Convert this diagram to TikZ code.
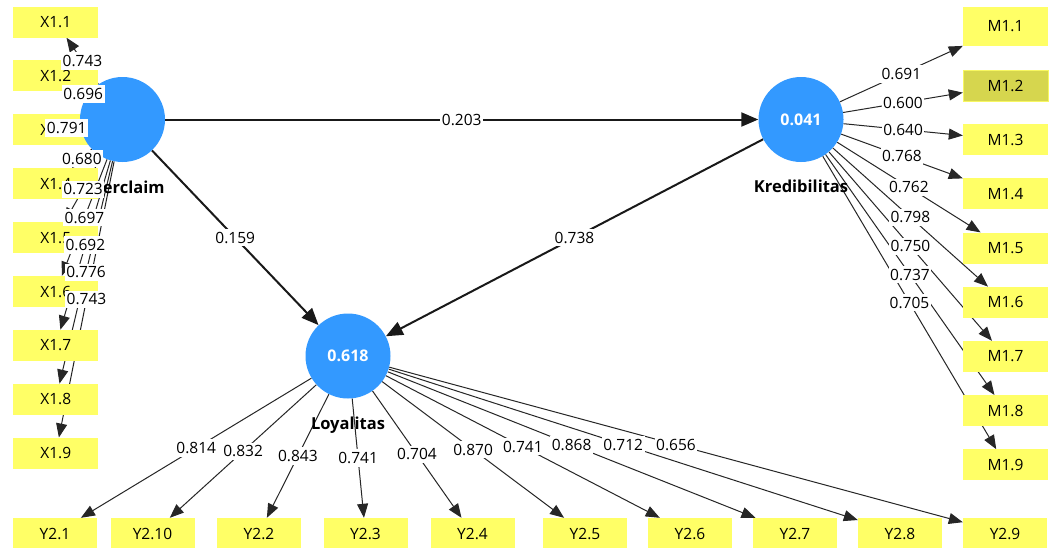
\documentclass[tikz,border=0pt]{standalone}
\usepackage{fontspec}
\setmainfont{Open Sans}
\usepackage{tikz}
\usetikzlibrary{positioning}
\usetikzlibrary{arrows.meta}

\definecolor{indyellow}{RGB}{255,255,102}
\definecolor{selyellow}{RGB}{214,214,78}
\definecolor{lvblue}{RGB}{51,153,255}

\pgfdeclarelayer{bg}
\pgfdeclarelayer{lines}
\pgfsetlayers{bg,lines,main}

\begin{document}
\begin{tikzpicture}[x=1pt,y=-1pt,
  ind/.style={fill=indyellow,minimum width=85pt,minimum height=31pt,inner sep=0pt,font=\fontsize{15.5}{18}\selectfont},
  lv/.style={circle,fill=lvblue,minimum size=85pt,inner sep=0pt,text=white,font=\fontsize{16}{18}\selectfont\bfseries},
  lvname/.style={inner sep=0pt,font=\fontsize{16.5}{18}\selectfont\bfseries},
  loading/.style={draw=black!85,line width=1pt,-{Triangle[length=14pt,width=11pt]}},
  struct/.style={draw=black!90,line width=2pt,-{Triangle[length=17pt,width=14pt]}},
  val/.style={fill=white,inner xsep=1.5pt,inner ysep=3pt,font=\fontsize{15.5}{18}\selectfont}]
\useasboundingbox (0,0) rectangle (1059,547);
\begin{pgfonlayer}{bg}
\fill[white] (0,0) rectangle (1059,547);
\end{pgfonlayer}

\foreach \i in {1,...,9}
  \node[ind] (x\i) at (55.75,{22+53.9*(\i-1)}) {X1.\i};
\node[ind,minimum height=39pt] (m1) at (1005.5,26.5) {M1.1};
\node[ind,fill=selyellow,draw=indyellow!80!selyellow] (m2) at (1005.5,85.5) {M1.2};
\foreach \i in {3,...,9}
  \node[ind] (m\i) at (1005.5,{85.5+54.2*(\i-2)}) {M1.\i};
\foreach \n/\x in {1/55,10/152.5,2/259,3/365.5,4/472.5,5/585,6/690,7/795,8/900,9/1005}
  \node[ind,minimum width=84pt] (y\n) at (\x,533.5) {Y2.\n};

\node[lv] (ov) at (122.5,119.5) {};
\node[lv] (kr) at (801,119.5) {0.041};
\node[lv] (lo) at (348,356) {0.618};
\node[lvname,below=19pt of ov] (ovname) {Overclaim};
\node[lvname,below=18pt of kr] (krname) {Kredibilitas};
\node[lvname,below=18pt of lo] (loname) {Loyalitas};

\begin{pgfonlayer}{lines}
\draw[struct] (ov) -- (kr);
\draw[struct] (ov) -- (lo);
\draw[struct] (kr) -- (lo);
\end{pgfonlayer}
\path (ov) -- (kr) node[val,midway] {0.203};
\path (ov) -- (lo) node[val,midway] {0.159};
\path (kr) -- (lo) node[val,midway] {0.738};

\foreach \i/\v/\p in {1/0.743/0.5,2/0.696/0.5,3/0.791/-0.75,4/0.680/0.5,5/0.723/0.5,6/0.697/0.5,7/0.692/0.5,8/0.776/0.5,9/0.743/0.5}{
  \begin{pgfonlayer}{lines}
  \draw[loading] (ov) -- (x\i);
  \end{pgfonlayer}
  \path (ov) -- (x\i) node[val,pos=\p] {\v};
}
\foreach \i/\v in {1/0.691,2/0.600,3/0.640,4/0.768,5/0.762,6/0.798,7/0.750,8/0.737,9/0.705}{
  \begin{pgfonlayer}{lines}
  \draw[loading] (kr) -- (m\i);
  \end{pgfonlayer}
  \path (kr) -- (m\i) node[val,midway] {\v};
}
\foreach \n/\v in {1/0.814,10/0.832,2/0.843,3/0.741,4/0.704,5/0.870,6/0.741,7/0.868,8/0.712,9/0.656}{
  \begin{pgfonlayer}{lines}
  \draw[loading] (lo) -- (y\n);
  \end{pgfonlayer}
  \path (lo) -- (y\n) node[val,midway] {\v};
}
\end{tikzpicture}
\end{document}
